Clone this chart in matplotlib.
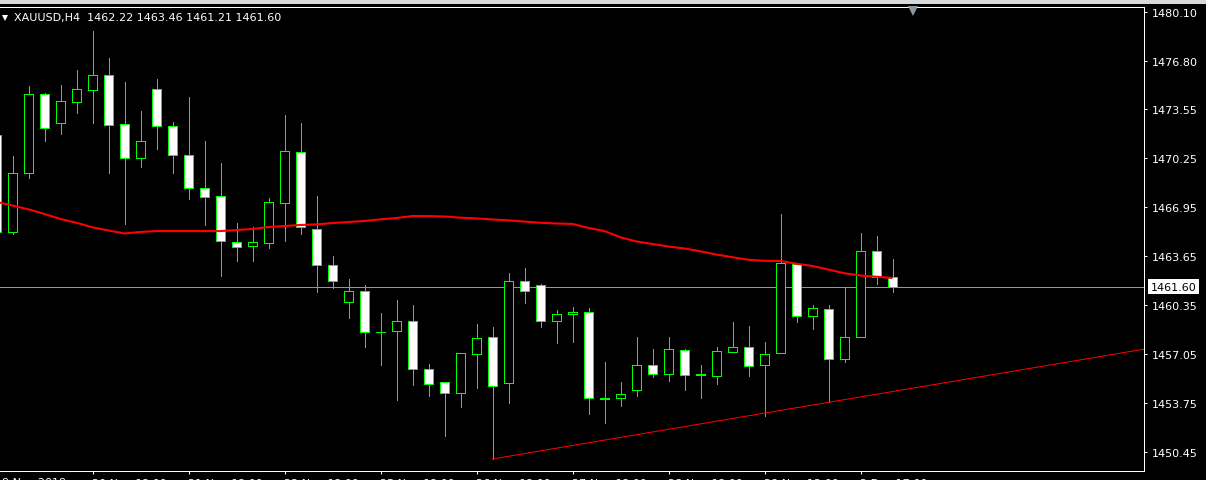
import matplotlib
matplotlib.use("Agg")
import matplotlib.pyplot as plt
from matplotlib.patches import Rectangle
import matplotlib.transforms as mtransforms

# ---------------- data ----------------
title_text = "XAUUSD,H4  1462.22 1463.46 1461.21 1461.60"
bar_index = list(range(-1, 56))

opens = [
    1471.79,
    1465.29, 1469.22, 1474.53, 1472.62, 1474.03, 1474.84, 1475.83, 1472.51, 1470.23, 1474.87,
    1472.38, 1470.43, 1468.21, 1467.67, 1464.57, 1464.35, 1464.55, 1467.24, 1470.63, 1465.45,
    1463.03, 1460.58, 1461.28, 1458.52, 1458.59, 1459.26, 1456.03, 1455.16, 1454.42, 1457.08,
    1458.18, 1455.09, 1461.95, 1461.68, 1459.26, 1459.73, 1459.87, 1454.08, 1454.08, 1454.62,
    1456.30, 1455.70, 1457.31, 1455.70, 1455.56, 1457.21, 1457.51, 1456.30, 1457.11, 1463.10,
    1459.60, 1460.07, 1456.70, 1458.18, 1463.97, 1462.22,
]
highs = [
    1472.10,
    1470.36, 1475.07, 1474.60, 1475.16, 1476.17, 1478.77, 1476.95, 1475.36, 1473.41, 1475.56,
    1472.67, 1474.35, 1471.39, 1469.91, 1465.89, 1465.60, 1467.56, 1473.14, 1472.60, 1467.69,
    1463.65, 1462.11, 1461.70, 1459.82, 1460.67, 1460.34, 1456.37, 1455.16, 1457.11, 1459.08,
    1458.88, 1462.51, 1462.85, 1461.75, 1460.02, 1460.22, 1460.16, 1456.52, 1455.18, 1458.20,
    1457.40, 1458.20, 1457.40, 1456.32, 1457.53, 1459.21, 1458.94, 1457.87, 1466.48, 1463.12,
    1460.36, 1460.36, 1461.57, 1465.20, 1465.00, 1463.46,
]
lows = [
    1464.90,
    1465.13, 1468.92, 1471.41, 1471.86, 1473.29, 1472.62, 1469.26, 1465.83, 1469.66, 1470.87,
    1469.26, 1467.51, 1465.76, 1462.29, 1463.34, 1463.34, 1464.21, 1464.68, 1465.15, 1461.25,
    1461.52, 1459.50, 1457.55, 1456.34, 1453.99, 1455.00, 1454.26, 1451.57, 1453.52, 1454.79,
    1450.00, 1453.79, 1460.51, 1458.90, 1457.82, 1457.89, 1453.05, 1452.44, 1453.58, 1454.26,
    1455.53, 1455.27, 1454.66, 1454.12, 1455.06, 1457.21, 1455.60, 1452.91, 1457.11, 1459.23,
    1458.76, 1453.81, 1456.54, 1458.18, 1461.79, 1461.21,
]
closes = [
    1465.29,
    1469.22, 1474.53, 1472.28, 1474.06, 1474.87, 1475.83, 1472.45, 1470.23, 1471.37, 1472.38,
    1470.43, 1468.21, 1467.60, 1464.64, 1464.24, 1464.57, 1467.27, 1470.70, 1465.58, 1463.03,
    1461.95, 1461.28, 1458.52, 1458.57, 1459.26, 1456.03, 1455.02, 1454.42, 1457.11, 1458.12,
    1454.89, 1461.95, 1461.28, 1459.26, 1459.73, 1459.87, 1454.08, 1454.05, 1454.35, 1456.30,
    1455.70, 1457.38, 1455.63, 1455.65, 1457.24, 1457.51, 1456.23, 1457.04, 1463.16, 1459.60,
    1460.14, 1456.70, 1458.18, 1463.97, 1462.22, 1461.60,
]
ma_values = [
    1467.29,
    1467.05, 1466.79, 1466.48, 1466.14, 1465.89, 1465.58, 1465.37, 1465.17, 1465.27, 1465.33,
    1465.33, 1465.33, 1465.33, 1465.33, 1465.40, 1465.47, 1465.60, 1465.67, 1465.74, 1465.78,
    1465.87, 1465.94, 1466.01, 1466.12, 1466.21, 1466.34, 1466.34, 1466.31, 1466.23, 1466.18,
    1466.11, 1466.05, 1465.97, 1465.89, 1465.84, 1465.81, 1465.54, 1465.33, 1464.91, 1464.63,
    1464.46, 1464.29, 1464.16, 1463.97, 1463.75, 1463.57, 1463.40, 1463.33, 1463.32, 1463.13,
    1462.98, 1462.74, 1462.49, 1462.34, 1462.26, 1462.17,
]
price_ticks = [1480.10, 1476.80, 1473.55, 1470.25, 1466.95, 1463.65, 1460.35, 1457.05, 1453.75, 1450.45]
time_tick_index = [5, 11, 17, 23, 29, 35, 41, 47, 53]
time_tick_labels = ["20 Nov 08:00", "21 Nov 08:00", "22 Nov 08:00", "25 Nov 08:00",
                    "26 Nov 08:00", "27 Nov 08:00", "28 Nov 08:00", "29 Nov 12:00", "2 Dec 17:00"]
first_time_label = "19 Nov 2019"
last_price = 1461.60
trend_start_bar = 30
trend_end_bar = 51

# ---------------- style ----------------
W, H = 1206, 481
GREEN = "#00ff00"
RED = "#ff0000"
FONT = "DejaVu Sans"
FS = 8
LW1 = 0.72  # one pixel at 100 dpi

fig = plt.figure(figsize=(W / 100, H / 100), dpi=100, facecolor="black")
ax_left, ax_right, ax_top, ax_bottom = 0, 1143.5, 8.3, 472
ax = fig.add_axes([ax_left / W, (H - ax_bottom) / H,
                   (ax_right - ax_left) / W, (ax_bottom - ax_top) / H])
ax.set_facecolor("black")

x0_px, step_px = 12.5, 16.0
ax.set_xlim((ax_left - x0_px) / step_px, (ax_right - x0_px) / step_px)
ax.set_ylim(1449.19, 1480.383)

# bid line
ax.axhline(last_price, color="#8a97a5", lw=LW1, zorder=1)

# candles
body_w = 9.0 / step_px
ax.vlines(bar_index, lows, highs, color=GREEN, lw=LW1, zorder=2, antialiased=False)
for i, o, c in zip(bar_index, opens, closes):
    bottom = min(o, c)
    height = abs(c - o)
    face = "white" if c < o else "black"
    ax.add_patch(Rectangle((i - body_w / 2, bottom), body_w, height,
                           facecolor=face, edgecolor=GREEN, lw=LW1, zorder=3,
                           antialiased=False))

# moving average
ax.plot(bar_index, ma_values, color=RED, lw=1.5, zorder=4, solid_capstyle="butt")

# trend line from low of bar 30 through low of bar 51, extended to the right edge
k0 = bar_index.index(trend_start_bar)
k1 = bar_index.index(trend_end_bar)
slope = (lows[k1] - lows[k0]) / (trend_end_bar - trend_start_bar)
x_end = ax.get_xlim()[1]
ax.plot([trend_start_bar, x_end], [lows[k0], lows[k0] + slope * (x_end - trend_start_bar)],
        color=RED, lw=LW1, zorder=4)

# spines
ax.spines["left"].set_visible(False)
for side in ["top", "right", "bottom"]:
    ax.spines[side].set_color("white")
    ax.spines[side].set_linewidth(LW1)

# price axis
ax.yaxis.tick_right()
ax.set_yticks(price_ticks)
ax.set_yticklabels([f"{p:.2f}" for p in price_ticks])
ax.tick_params(axis="y", colors="white", labelcolor="white", length=2.5, width=LW1,
               pad=3.5, labelsize=FS)

# time axis
ax.set_xticks(time_tick_index)
ax.set_xticklabels(time_tick_labels)
ax.tick_params(axis="x", colors="white", labelcolor="white", length=2.5, width=LW1,
               pad=2.5, labelsize=FS)
for lab in ax.get_xticklabels():
    lab.set_ha("left")
    lab.set_family(FONT)
for lab in ax.get_yticklabels():
    lab.set_family(FONT)

trans_x = mtransforms.blended_transform_factory(ax.transAxes, ax.transAxes)
ax.text(-5 / (ax_right - ax_left), -6.5 / (ax_bottom - ax_top), first_time_label,
        transform=trans_x, color="white", fontsize=FS, family=FONT,
        ha="left", va="top", clip_on=False)

# current price label
ax.annotate(f"{last_price:.2f}", xy=(1, last_price), xycoords=("axes fraction", "data"),
            xytext=(5.0, 0), textcoords="offset points", ha="left", va="center",
            color="black", fontsize=FS, family=FONT,
            bbox=dict(boxstyle="square,pad=0.25", fc="white", ec="none"),
            annotation_clip=False, zorder=6)

# header text
ax.plot([4.5 / (ax_right - ax_left)], [1 - (18.5 - ax_top) / (ax_bottom - ax_top)],
        marker="v", color="white", markersize=5, transform=ax.transAxes, clip_on=False,
        zorder=6, markeredgewidth=0)
ax.text(14 / (ax_right - ax_left), 1 - (18.3 - ax_top) / (ax_bottom - ax_top), title_text,
        transform=ax.transAxes, color="white", fontsize=FS, family=FONT,
        ha="left", va="center", zorder=6)

# chart shift marker
ax.plot([912.5 / (ax_right - ax_left)], [1 - (12.0 - ax_top) / (ax_bottom - ax_top)],
        marker="v", color="#8a97a5", markersize=7, transform=ax.transAxes, clip_on=False,
        zorder=6, markeredgewidth=0)

# window top strip
fig.patches.append(Rectangle((0, (H - 5) / H), 1, 5 / H, transform=fig.transFigure,
                             facecolor="#d8d8d8", edgecolor="none", zorder=0))

fig.savefig("out.png", dpi=100, facecolor="black")
